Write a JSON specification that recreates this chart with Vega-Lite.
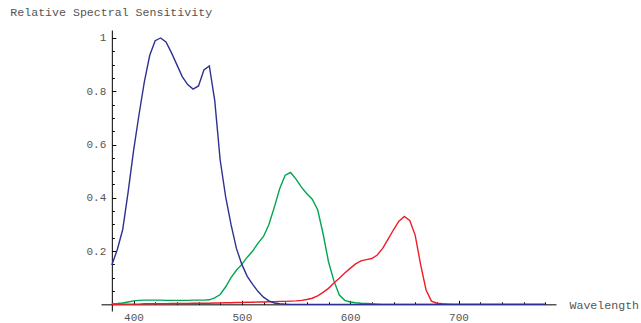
{
  "$schema": "https://vega.github.io/schema/vega-lite/v6.json",
  "autosize": "none",
  "padding": {"left": 101, "top": 30, "right": 85, "bottom": 12},
  "width": 455,
  "height": 281,
  "background": "white",
  "config": {
    "view": {"stroke": null},
    "axis": {
      "labelFont": "Liberation Mono",
      "titleFont": "Liberation Mono",
      "labelColor": "#555",
      "titleColor": "#555",
      "labelFontSize": 11,
      "titleFontSize": 11.6,
      "titleFontWeight": "normal",
      "domainColor": "#000",
      "tickColor": "#000",
      "grid": false
    }
  },
  "data": {
    "values": [
      {"w": 380, "g": 0.002, "r": 0.000, "b": 0.148},
      {"w": 385, "g": 0.003, "r": 0.000, "b": 0.205},
      {"w": 390, "g": 0.005, "r": 0.001, "b": 0.28},
      {"w": 395, "g": 0.009, "r": 0.001, "b": 0.42},
      {"w": 400, "g": 0.013, "r": 0.001, "b": 0.575},
      {"w": 405, "g": 0.015, "r": 0.001, "b": 0.71},
      {"w": 410, "g": 0.016, "r": 0.002, "b": 0.835},
      {"w": 415, "g": 0.016, "r": 0.002, "b": 0.935},
      {"w": 420, "g": 0.016, "r": 0.002, "b": 0.99},
      {"w": 425, "g": 0.016, "r": 0.002, "b": 1.0},
      {"w": 430, "g": 0.015, "r": 0.002, "b": 0.985},
      {"w": 435, "g": 0.015, "r": 0.003, "b": 0.945},
      {"w": 440, "g": 0.015, "r": 0.003, "b": 0.9},
      {"w": 445, "g": 0.015, "r": 0.003, "b": 0.855},
      {"w": 450, "g": 0.015, "r": 0.003, "b": 0.825},
      {"w": 455, "g": 0.016, "r": 0.004, "b": 0.808},
      {"w": 460, "g": 0.016, "r": 0.004, "b": 0.82},
      {"w": 465, "g": 0.016, "r": 0.004, "b": 0.88},
      {"w": 470, "g": 0.017, "r": 0.004, "b": 0.895},
      {"w": 475, "g": 0.024, "r": 0.005, "b": 0.765},
      {"w": 480, "g": 0.037, "r": 0.005, "b": 0.542},
      {"w": 485, "g": 0.065, "r": 0.006, "b": 0.405},
      {"w": 490, "g": 0.1, "r": 0.006, "b": 0.3},
      {"w": 495, "g": 0.128, "r": 0.007, "b": 0.21},
      {"w": 500, "g": 0.15, "r": 0.007, "b": 0.15},
      {"w": 505, "g": 0.177, "r": 0.008, "b": 0.105},
      {"w": 510, "g": 0.2, "r": 0.008, "b": 0.075},
      {"w": 515, "g": 0.23, "r": 0.009, "b": 0.048},
      {"w": 520, "g": 0.255, "r": 0.009, "b": 0.027},
      {"w": 525, "g": 0.3, "r": 0.01, "b": 0.013},
      {"w": 530, "g": 0.365, "r": 0.01, "b": 0.005},
      {"w": 535, "g": 0.435, "r": 0.011, "b": 0.002},
      {"w": 540, "g": 0.485, "r": 0.011, "b": 0.001},
      {"w": 545, "g": 0.495, "r": 0.012, "b": 0.0},
      {"w": 550, "g": 0.47, "r": 0.013, "b": 0.0},
      {"w": 555, "g": 0.44, "r": 0.015, "b": 0.0},
      {"w": 560, "g": 0.415, "r": 0.018, "b": 0.0},
      {"w": 565, "g": 0.395, "r": 0.023, "b": 0.0},
      {"w": 570, "g": 0.355, "r": 0.032, "b": 0.0},
      {"w": 575, "g": 0.265, "r": 0.045, "b": 0.0},
      {"w": 580, "g": 0.16, "r": 0.06, "b": 0.0},
      {"w": 585, "g": 0.088, "r": 0.08, "b": 0.0},
      {"w": 590, "g": 0.035, "r": 0.098, "b": 0.0},
      {"w": 595, "g": 0.015, "r": 0.118, "b": 0.0},
      {"w": 600, "g": 0.009, "r": 0.135, "b": 0.0},
      {"w": 605, "g": 0.006, "r": 0.152, "b": 0.0},
      {"w": 610, "g": 0.004, "r": 0.163, "b": 0.0},
      {"w": 615, "g": 0.003, "r": 0.168, "b": 0.0},
      {"w": 620, "g": 0.002, "r": 0.172, "b": 0.0},
      {"w": 625, "g": 0.001, "r": 0.185, "b": 0.0},
      {"w": 630, "g": 0.0, "r": 0.21, "b": 0.0},
      {"w": 635, "g": 0.0, "r": 0.245, "b": 0.0},
      {"w": 640, "g": 0.0, "r": 0.28, "b": 0.0},
      {"w": 645, "g": 0.0, "r": 0.312, "b": 0.0},
      {"w": 650, "g": 0.0, "r": 0.33, "b": 0.0},
      {"w": 655, "g": 0.0, "r": 0.315, "b": 0.0},
      {"w": 660, "g": 0.0, "r": 0.26, "b": 0.0},
      {"w": 665, "g": 0.0, "r": 0.15, "b": 0.0},
      {"w": 670, "g": 0.0, "r": 0.055, "b": 0.0},
      {"w": 675, "g": 0.0, "r": 0.012, "b": 0.0},
      {"w": 680, "g": 0.0, "r": 0.004, "b": 0.0},
      {"w": 685, "g": 0.0, "r": 0.002, "b": 0.0},
      {"w": 690, "g": 0.0, "r": 0.001, "b": 0.0},
      {"w": 695, "g": 0.0, "r": 0.0, "b": 0.0},
      {"w": 700, "g": 0.0, "r": 0.0, "b": 0.0},
      {"w": 720, "g": 0.0, "r": 0.0, "b": 0.0},
      {"w": 740, "g": 0.0, "r": 0.0, "b": 0.0},
      {"w": 760, "g": 0.0, "r": 0.0, "b": 0.0},
      {"w": 780, "g": 0.0, "r": 0.0, "b": 0.0}
    ]
  },
  "transform": [{"fold": ["g", "r", "b"], "as": ["series", "value"]}],
  "resolve": {"axis": {"x": "independent", "y": "independent"}},
  "layer": [
    {
      "mark": {"type": "line", "strokeWidth": 1.4, "clip": false},
      "encoding": {
        "x": {
          "field": "w", "type": "quantitative",
          "scale": {"domain": [370, 790], "nice": false, "zero": false},
          "axis": {
            "orient": "bottom", "offset": -6.66,
            "values": [400, 500, 600, 700],
            "tickSize": -4, "labelPadding": 11.5,
            "domainWidth": 1,
            "title": "Wavelength", "titleX": 468, "titleY": 1,
            "titleAlign": "left", "titleBaseline": "middle", "titleAngle": 0
          }
        },
        "y": {
          "field": "value", "type": "quantitative",
          "scale": {"domain": [-0.025, 1.03], "nice": false, "zero": false},
          "axis": {
            "orient": "left", "offset": -10.83,
            "values": [0.2, 0.4, 0.6, 0.8, 1],
            "format": "~g",
            "tickSize": -4, "labelPadding": 10,
            "title": "Relative Spectral Sensitivity",
            "titleX": -102, "titleY": -18,
            "titleAlign": "left", "titleBaseline": "middle", "titleAngle": 0
          }
        },
        "color": {
          "field": "series", "type": "nominal",
          "scale": {"domain": ["g", "r", "b"], "range": ["#00a651", "#ee1c2a", "#2e3192"]},
          "legend": null
        },
        "order": {"field": "w", "type": "quantitative"}
      }
    },
    {
      "mark": {"type": "line", "strokeOpacity": 0},
      "encoding": {
        "x": {
          "field": "w", "type": "quantitative",
          "scale": {"domain": [370, 790], "nice": false, "zero": false},
          "axis": {
            "orient": "bottom", "offset": -6.66,
            "values": [420, 440, 460, 480, 520, 540, 560, 580, 620, 640, 660, 680, 720, 740, 760, 780],
            "tickSize": -2.5, "labels": false, "domain": false, "title": null
          }
        },
        "y": {
          "field": "value", "type": "quantitative",
          "scale": {"domain": [-0.025, 1.03], "nice": false, "zero": false},
          "axis": {
            "orient": "left", "offset": -10.83,
            "values": [0.05, 0.1, 0.15, 0.25, 0.3, 0.35, 0.45, 0.5, 0.55, 0.65, 0.7, 0.75, 0.85, 0.9, 0.95],
            "tickSize": -2.5, "labels": false, "domain": false, "title": null
          }
        },
        "detail": {"field": "series", "type": "nominal"}
      }
    }
  ]
}
